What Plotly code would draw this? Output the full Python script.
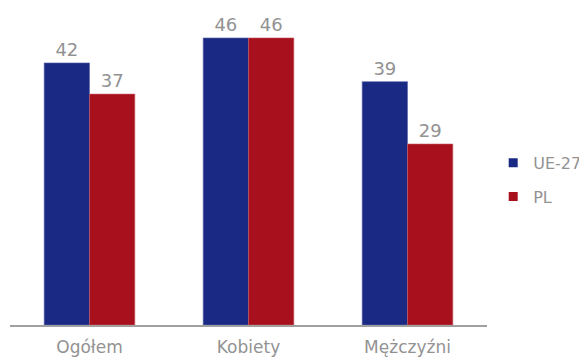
import plotly.graph_objects as go

categories = ["Ogółem", "Kobiety", "Mężczyźni"]
ue27 = [42, 46, 39]
pl = [37, 46, 29]

BLUE = "#1a2a84"
RED = "#a8101e"
GRAY = "#929292"

fig = go.Figure()
fig.add_trace(go.Bar(name="UE-27", x=categories, y=ue27, marker_color=BLUE,
                     marker_line=dict(width=0.6, color="#5a63a8"),
                     text=ue27, textposition="outside", cliponaxis=False,
                     textfont=dict(color=GRAY, size=18), showlegend=False))
fig.add_trace(go.Bar(name="PL", x=categories, y=pl, marker_color=RED,
                     marker_line=dict(width=0.6, color="#c45a63"),
                     text=pl, textposition="outside", cliponaxis=False,
                     textfont=dict(color=GRAY, size=18), showlegend=False))
# legend entries
for name, col in [("UE-27", BLUE), ("PL", RED)]:
    fig.add_trace(go.Scatter(name=name, x=[None], y=[None], mode="markers",
                             legendgroup=name,
                             marker=dict(symbol="square", size=9, color=col)))

# the page body adds an 8px offset, so the figure is 8px smaller
fig.update_layout(
    width=579, height=349,
    margin=dict(l=2, r=100, t=5, b=32, autoexpand=False),
    paper_bgcolor="white", plot_bgcolor="white",
    barmode="group", bargap=0.43, bargroupgap=0,
    font=dict(family="DejaVu Sans", color=GRAY, size=16),
    showlegend=True,
    legend=dict(x=1.013, y=0.465, yanchor="middle", xanchor="left",
                font=dict(size=16, color=GRAY), itemwidth=30,
                tracegroupgap=10),
)
fig.update_xaxes(showline=True, linecolor="#a0a0a0", linewidth=1.5, ticks="",
                 automargin=False, ticklabelstandoff=6,
                 tickfont=dict(size=17, color=GRAY))
fig.update_yaxes(range=[0, 50], visible=False, showgrid=False, automargin=False)
fig.write_html("out.html")
